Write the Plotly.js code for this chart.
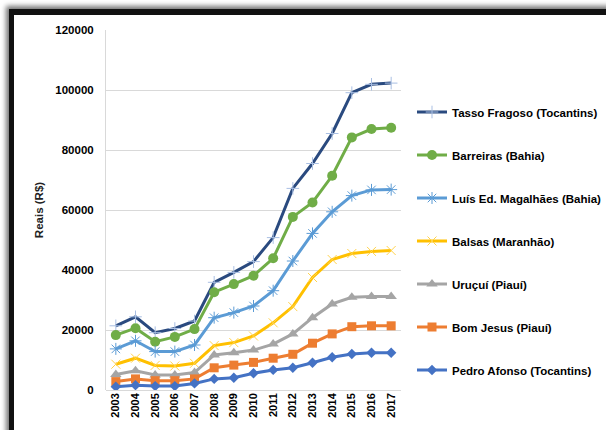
<!DOCTYPE html>
<html>
<head>
<meta charset="utf-8">
<script src="https://cdn.plot.ly/plotly-3.0.1.min.js"></script>
<style>
  html, body { margin: 0; padding: 0; background: #ffffff; overflow: hidden; }
  #frame { position: absolute; left: 9px; top: 9px; width: 800px; height: 600px;
           border-left: 5px solid #111; border-top: 6px solid #111;
           box-shadow: -2px -2px 5px 1px rgba(0,0,0,0.55); background: #fff; }
  #chart { position: absolute; left: 0; top: 0; width: 606px; height: 430px; }
</style>
</head>
<body>
<div id="frame"></div>
<div id="chart"></div>
<script>
const years = ["2003","2004","2005","2006","2007","2008","2009","2010","2011","2012","2013","2014","2015","2016","2017"];

const tassoFragoso = [21400, 24400, 19100, 20500, 23000, 35900, 39200, 42800, 50800, 67200, 75500, 85500, 99100, 101900, 102300];
const barreiras    = [18300, 20600, 16100, 17700, 20300, 32600, 35300, 38100, 43900, 57700, 62500, 71400, 84200, 87000, 87400];
const luisEdMagalhaes = [13700, 16400, 12800, 12800, 15000, 24100, 25800, 28000, 33100, 43000, 52200, 59400, 64800, 66700, 66800];
const balsas       = [8600, 10600, 8200, 8000, 8900, 14800, 15800, 18000, 22400, 27800, 37500, 43500, 45500, 46200, 46500];
const urucui       = [5200, 6400, 5000, 5000, 5800, 11700, 12400, 13300, 15300, 18700, 24100, 28700, 30900, 31200, 31200];
const bomJesus     = [2800, 3700, 3100, 3100, 3700, 7400, 8300, 9200, 10600, 11900, 15600, 18700, 21100, 21400, 21400];
const pedroAfonso  = [1100, 1600, 1300, 1300, 2200, 3700, 4100, 5600, 6700, 7400, 9100, 10900, 12000, 12400, 12400];

const names = ["Tasso Fragoso (Tocantins)", "Barreiras (Bahia)", "Luís Ed. Magalhães (Bahia)",
               "Balsas (Maranhão)", "Uruçuí (Piauí)", "Bom Jesus (Piauí)", "Pedro Afonso (Tocantins)"];
const series = [tassoFragoso, barreiras, luisEdMagalhaes, balsas, urucui, bomJesus, pedroAfonso];
const colors = ["#2a4a7f", "#70ad47", "#5b9bd5", "#ffc000", "#a5a5a5", "#ed7d31", "#4472c4"];
const markers = [
  {symbol: "cross-thin-open", size: 9, color: "#a9bfe3", line: {width: 1}},
  {symbol: "circle", size: 10},
  {symbol: "asterisk-open", size: 10, line: {width: 1}},
  {symbol: "x-thin-open", size: 9, color: "#ffd34d", line: {width: 1}},
  {symbol: "triangle-up", size: 10},
  {symbol: "square", size: 9},
  {symbol: "diamond", size: 8}
];

const traces = series.map((vals, i) => ({
  type: "scatter",
  mode: "lines+markers",
  x: years,
  y: vals,
  name: names[i],
  legendgroup: "g" + i,
  line: {color: colors[i], width: 3},
  marker: Object.assign({color: colors[i]}, markers[i])
}));

const fontFam = "Liberation Sans, Arial, sans-serif";

const layout = {
  width: 606,
  height: 430,
  margin: {l: 106, r: 205, t: 30, b: 40},
  paper_bgcolor: "rgba(0,0,0,0)",
  plot_bgcolor: "rgba(0,0,0,0)",
  showlegend: true,
  font: {family: fontFam, color: "#000"},
  xaxis: {
    type: "category",
    range: [-0.5, 14.5],
    tickangle: -90,
    showgrid: false,
    showline: false,
    zeroline: false,
    tickfont: {family: fontFam, size: 11, weight: "bold", color: "#000"},
    ticks: "",
    fixedrange: true
  },
  yaxis: {
    range: [0, 120000],
    dtick: 20000,
    tickformat: "d",
    showgrid: true,
    gridcolor: "#d9d9d9",
    gridwidth: 1,
    zeroline: true,
    zerolinecolor: "#d9d9d9",
    showline: true,
    linecolor: "#d9d9d9",
    linewidth: 1,
    ticks: "",
    ticklabelstandoff: 9,
    tickfont: {family: fontFam, size: 11.5, weight: "bold", color: "#000"},
    title: {text: "Reais (R$)", standoff: 9, font: {family: fontFam, size: 11.5, weight: "bold", color: "#222"}},
    fixedrange: true
  },
  legend: {
    xref: "container",
    yref: "container",
    x: 412 / 606,
    y: 1 - 241 / 430,
    xanchor: "left",
    yanchor: "middle",
    maxheight: 420,
    tracegroupgap: 24,
    itemwidth: 30,
    font: {family: fontFam, size: 11.5, weight: "bold", color: "#000"},
    bgcolor: "rgba(0,0,0,0)"
  }
};

Plotly.newPlot("chart", traces, layout, {displayModeBar: false, staticPlot: true});
</script>
</body>
</html>
